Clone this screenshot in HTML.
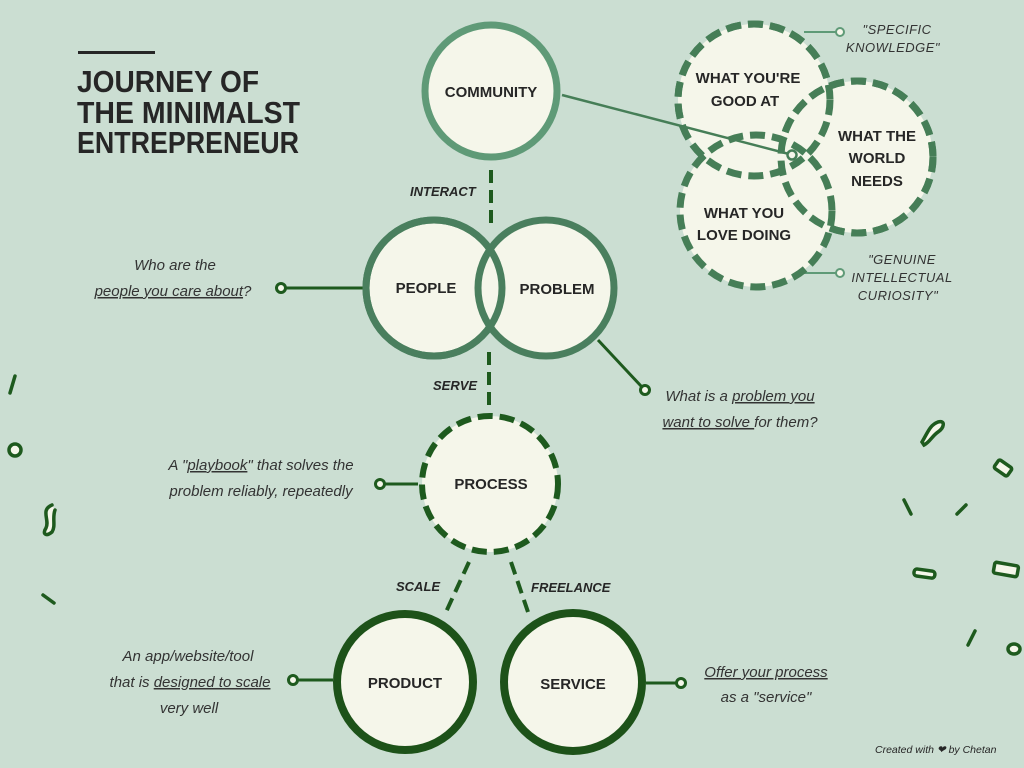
<!DOCTYPE html>
<html><head><meta charset="utf-8"><style>
html,body{margin:0;padding:0;background:#cbded2}
svg{display:block}
text{font-family:"Liberation Sans",sans-serif;fill:#262626}
.b{font-weight:bold;font-size:15px}
.i{font-style:italic;font-size:15px;fill:#333}
.lab{font-weight:bold;font-style:italic;font-size:13px}
.s{font-style:italic;font-size:13px;fill:#333;letter-spacing:0.5px}
</style></head><body>
<svg width="1024" height="768" viewBox="0 0 1024 768">
<rect width="1024" height="768" fill="#cbded2"/>
<rect x="78" y="51" width="77" height="3" fill="#262626"/>
<text x="77" y="92" font-weight="bold" font-size="31" textLength="182" lengthAdjust="spacingAndGlyphs">JOURNEY OF</text>
<text x="77" y="123" font-weight="bold" font-size="31" textLength="223" lengthAdjust="spacingAndGlyphs">THE MINIMALST</text>
<text x="77" y="153" font-weight="bold" font-size="31" textLength="222" lengthAdjust="spacingAndGlyphs">ENTREPRENEUR</text>

<g stroke-width="3" fill="none">
<line x1="491" y1="170" x2="491" y2="225" stroke="#1e5a1e" stroke-dasharray="13,7" stroke-width="4"/>
<line x1="489" y1="352" x2="489" y2="410" stroke="#1e5a1e" stroke-dasharray="13,7" stroke-width="4"/>
<line x1="469" y1="562" x2="446" y2="612" stroke="#1e5a1e" stroke-dasharray="13,7" stroke-width="4"/>
<line x1="511" y1="562" x2="528" y2="612" stroke="#1e5a1e" stroke-dasharray="13,7" stroke-width="4"/>
<line x1="363" y1="288" x2="286" y2="288" stroke="#1e5a1e"/>
<circle cx="281" cy="288" r="4.5" stroke="#1e5a1e" fill="#f5f6ea"/>
<line x1="598" y1="340" x2="641" y2="386" stroke="#1e5a1e"/>
<circle cx="645" cy="390" r="4.5" stroke="#1e5a1e" fill="#f5f6ea"/>
<line x1="418" y1="484" x2="385" y2="484" stroke="#1e5a1e"/>
<circle cx="380" cy="484" r="4.5" stroke="#1e5a1e" fill="#f5f6ea"/>
<line x1="333" y1="680" x2="298" y2="680" stroke="#1e5a1e"/>
<circle cx="293" cy="680" r="4.5" stroke="#1e5a1e" fill="#f5f6ea"/>
<line x1="646" y1="683" x2="677" y2="683" stroke="#1e5a1e"/>
<circle cx="681" cy="683" r="4.5" stroke="#1e5a1e" fill="#f5f6ea"/>
<line x1="804" y1="32" x2="836" y2="32" stroke="#5f9a77" stroke-width="2"/>
<circle cx="840" cy="32" r="4" stroke="#5f9a77" fill="#f5f6ea" stroke-width="2"/>
<line x1="804" y1="273" x2="836" y2="273" stroke="#5f9a77" stroke-width="2"/>
<circle cx="840" cy="273" r="4" stroke="#5f9a77" fill="#f5f6ea" stroke-width="2"/>
</g>

<circle cx="491" cy="91" r="66" fill="#f5f6ea" stroke="#5f9a77" stroke-width="7"/>
<circle cx="434" cy="288" r="68" fill="#f5f6ea" stroke="#4a7f5e" stroke-width="7"/>
<circle cx="546" cy="288" r="68" fill="#f5f6ea" stroke="#4a7f5e" stroke-width="7"/>
<circle cx="434" cy="288" r="68" fill="none" stroke="#4a7f5e" stroke-width="7"/>
<circle cx="490" cy="484" r="68" fill="#f5f6ea" stroke="#1e5a1e" stroke-width="6" stroke-dasharray="15,7"/>
<circle cx="405" cy="682" r="68" fill="#f5f6ea" stroke="#1d5219" stroke-width="8"/>
<circle cx="573" cy="682" r="69" fill="#f5f6ea" stroke="#1d5219" stroke-width="8"/>

<g stroke="#467e57" stroke-width="7" stroke-dasharray="15,7">
<circle cx="754" cy="100" r="76" fill="#f5f6ea"/>
<circle cx="857" cy="157" r="76" fill="#f5f6ea"/>
<circle cx="756" cy="211" r="76" fill="#f5f6ea"/>
<circle cx="754" cy="100" r="76" fill="none"/>
<circle cx="857" cy="157" r="76" fill="none"/>
</g>
<line x1="562" y1="95" x2="789" y2="154" stroke="#467e57" stroke-width="2.5"/>
<circle cx="792" cy="155" r="4.5" stroke="#467e57" fill="#f5f6ea" stroke-width="2.5"/>

<g text-anchor="middle">
<text class="b" x="491" y="97">COMMUNITY</text>
<text class="b" x="426" y="293">PEOPLE</text>
<text class="b" x="557" y="294">PROBLEM</text>
<text class="b" x="491" y="489">PROCESS</text>
<text class="b" x="405" y="688">PRODUCT</text>
<text class="b" x="573" y="689">SERVICE</text>
<text class="b" x="748" y="83" font-size="13">WHAT YOU'RE</text>
<text class="b" x="745" y="106" font-size="13">GOOD AT</text>
<text class="b" x="877" y="141" font-size="13">WHAT THE</text>
<text class="b" x="877" y="163" font-size="13">WORLD</text>
<text class="b" x="877" y="186" font-size="13">NEEDS</text>
<text class="b" x="744" y="218" font-size="13">WHAT YOU</text>
<text class="b" x="744" y="240" font-size="13">LOVE DOING</text>
</g>

<text class="lab" x="410" y="196">INTERACT</text>
<text class="lab" x="433" y="390">SERVE</text>
<text class="lab" x="396" y="591">SCALE</text>
<text class="lab" x="531" y="592">FREELANCE</text>

<g text-anchor="middle">
<text class="i" x="175" y="270">Who are the</text>
<text class="i" x="173" y="296"><tspan text-decoration="underline">people you care about</tspan>?</text>
<text class="i" x="740" y="401">What is a <tspan text-decoration="underline">problem you</tspan></text>
<text class="i" x="740" y="427"><tspan text-decoration="underline">want to solve </tspan>for them?</text>
<text class="i" x="261" y="470">A "<tspan text-decoration="underline">playbook</tspan>" that solves the</text>
<text class="i" x="261" y="496">problem reliably, repeatedly</text>
<text class="i" x="188" y="661">An app/website/tool</text>
<text class="i" x="190" y="687">that is <tspan text-decoration="underline">designed to scale</tspan></text>
<text class="i" x="189" y="713">very well</text>
<text class="i" x="766" y="677" text-decoration="underline">Offer your process</text>
<text class="i" x="766" y="702">as a "service"</text>
<text class="s" x="897" y="34">"SPECIFIC</text>
<text class="s" x="893" y="52">KNOWLEDGE"</text>
<text class="s" x="902" y="264">"GENUINE</text>
<text class="s" x="902" y="282">INTELLECTUAL</text>
<text class="s" x="898" y="300">CURIOSITY"</text>
</g>
<text x="875" y="753" font-size="10.5" font-style="italic" fill="#262626">Created with ❤ by Chetan</text>

<g stroke="#1e5a1e" stroke-width="3.5" fill="#f5f6ea" stroke-linecap="round">
<line x1="15" y1="376" x2="10" y2="393"/>
<circle cx="15" cy="450" r="6"/>
<path d="M52,505 C40,510 50,520 46,528 C42,534 46,537 52,532 C56,526 52,518 55,510"/>
<line x1="43" y1="595" x2="54" y2="603"/>
<path d="M922,442 C928,432 930,425 938,422 C946,420 944,428 938,432 C932,436 930,442 924,445 Z"/>
<rect x="995" y="463" width="16" height="10" rx="2" transform="rotate(35 1003 468)"/>
<line x1="904" y1="500" x2="911" y2="514"/>
<line x1="957" y1="514" x2="966" y2="505"/>
<rect x="914" y="570" width="21" height="7" rx="3" transform="rotate(8 924 573)"/>
<rect x="994" y="564" width="24" height="11" rx="2" transform="rotate(10 1006 569)"/>
<line x1="968" y1="645" x2="975" y2="631"/>
<ellipse cx="1014" cy="649" rx="6" ry="5"/>
</g>
</svg>
</body></html>
